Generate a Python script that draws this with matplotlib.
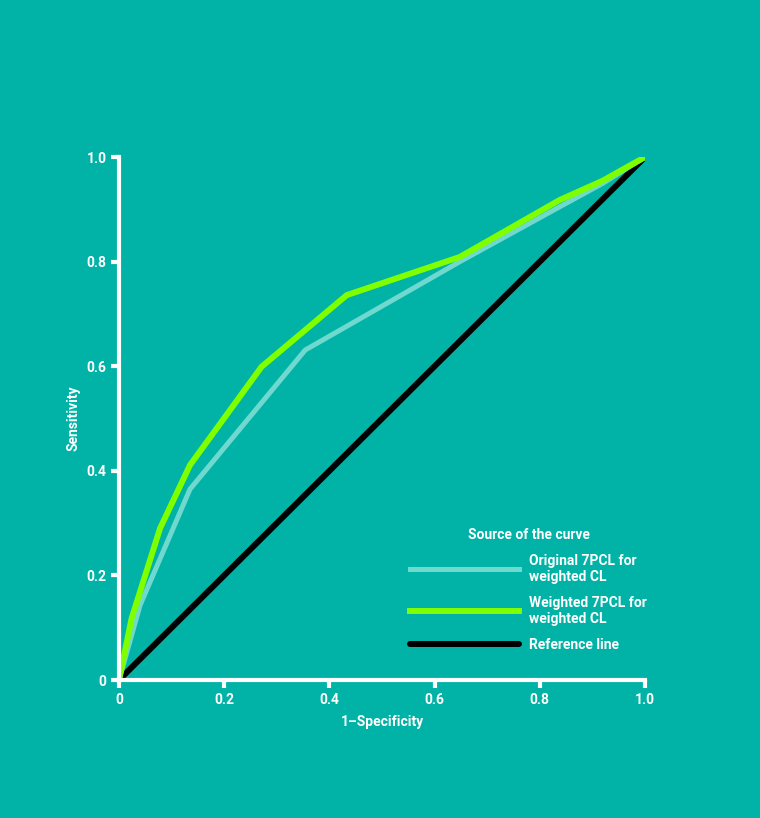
import matplotlib
matplotlib.use("Agg")
import matplotlib.pyplot as plt

# ROC curve values
orig_fpr = [0.0, 0.04, 0.135, 0.354, 0.648, 0.838, 0.92, 1.0]
orig_tpr = [0.0, 0.143, 0.365, 0.631, 0.80, 0.905, 0.95, 1.0]

weighted_fpr = [0.0, 0.024, 0.078, 0.135, 0.271, 0.433, 0.648, 0.838, 0.92, 1.0]
weighted_tpr = [0.0, 0.118, 0.29, 0.411, 0.599, 0.736, 0.809, 0.918, 0.955, 1.0]

ref_x = [0.0, 1.0]
ref_y = [0.0, 1.0]

ticks = [0, 0.2, 0.4, 0.6, 0.8, 1.0]
tick_labels = ["0", "0.2", "0.4", "0.6", "0.8", "1.0"]

BG = "#00B3A6"
plt.rcParams["font.family"] = ["Roboto", "DejaVu Sans"]
plt.rcParams["font.weight"] = "bold"

fig = plt.figure(figsize=(7.6, 8.18), dpi=100, facecolor=BG)
ax = fig.add_axes([0.1566, 0.1687, 0.6921, 0.6393])
ax.set_facecolor(BG)

ax.plot(orig_fpr, orig_tpr, color="#6FD8CF", lw=3.6, label="Original 7PCL for\nweighted CL",
        solid_joinstyle="miter", zorder=3)
ax.plot(weighted_fpr, weighted_tpr, color="#7FFF00", lw=4.3, label="Weighted 7PCL for\nweighted CL",
        solid_joinstyle="miter", zorder=4)
ax.plot(ref_x, ref_y, color="black", lw=4.3, label="Reference line",
        solid_capstyle="round", zorder=2)

ax.set_xlim(0, 1)
ax.set_ylim(0, 1)
ax.set_xticks(ticks)
ax.set_xticklabels(tick_labels)
ax.set_yticks(ticks)
ax.set_yticklabels(tick_labels)

for side in ["top", "right"]:
    ax.spines[side].set_visible(False)
for side in ["left", "bottom"]:
    ax.spines[side].set_color("white")
    ax.spines[side].set_linewidth(3)
    ax.spines[side].set_zorder(5)
ax.tick_params(colors="white", width=3, length=6, labelsize=10, pad=3)
for lab in ax.get_xticklabels() + ax.get_yticklabels():
    lab.set_fontweight("bold")
    lab.set_color("white")

ax.set_xlabel("1–Specificity", color="white", fontsize=10, fontweight="bold", labelpad=6)
ax.set_ylabel("Sensitivity", color="white", fontsize=10, fontweight="bold", labelpad=4)

leg = ax.legend(loc="upper left", bbox_to_anchor=(0.53, 0.315), frameon=False,
                title="Source of the curve", fontsize=10, handlelength=7.8,
                labelspacing=0.85, handletextpad=0.75)
leg.get_title().set_color("white")
leg.get_title().set_fontweight("bold")
leg.get_title().set_fontsize(10)
for t in leg.get_texts():
    t.set_color("white")
    t.set_fontweight("bold")
    t.set_linespacing(1.2)

fig.savefig("out.png", dpi=100, facecolor=BG)
